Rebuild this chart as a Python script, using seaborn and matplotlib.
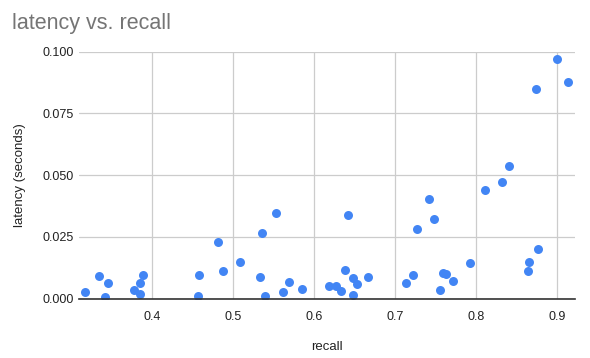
import matplotlib
matplotlib.use("Agg")
import matplotlib.pyplot as plt
import seaborn as sns
import pandas as pd
from matplotlib.ticker import FixedLocator, FormatStrFormatter

# recall / latency pairs
recall = [0.318, 0.335, 0.346, 0.342, 0.378, 0.385, 0.389, 0.386, 0.458, 0.457,
          0.482, 0.488, 0.509, 0.536, 0.534, 0.554, 0.540, 0.562, 0.569, 0.585,
          0.619, 0.627, 0.634, 0.639, 0.642, 0.649, 0.654, 0.649, 0.667, 0.714,
          0.722, 0.728, 0.742, 0.749, 0.756, 0.760, 0.763, 0.772, 0.793, 0.812,
          0.832, 0.841, 0.864, 0.866, 0.877, 0.875, 0.900, 0.914]
latency = [0.0027, 0.0091, 0.0062, 0.0008, 0.0034, 0.0065, 0.0097, 0.0018, 0.0095, 0.0010,
           0.0228, 0.0113, 0.0149, 0.0267, 0.0089, 0.0347, 0.0011, 0.0026, 0.0066, 0.0039,
           0.0051, 0.0051, 0.0031, 0.0117, 0.0340, 0.0083, 0.0061, 0.0015, 0.0089, 0.0065,
           0.0095, 0.0281, 0.0405, 0.0324, 0.0036, 0.0103, 0.0100, 0.0070, 0.0143, 0.0439,
           0.0471, 0.0536, 0.0112, 0.0147, 0.0203, 0.0848, 0.0969, 0.0879]

x_ticks = [0.4, 0.5, 0.6, 0.7, 0.8, 0.9]
y_ticks = [0.000, 0.025, 0.050, 0.075, 0.100]

df = pd.DataFrame({"recall": recall, "latency": latency})

sns.set_style("white")
plt.rcParams["font.family"] = ["Liberation Sans", "DejaVu Sans"]

fig = plt.figure(figsize=(5.9, 3.58), dpi=100)
ax = fig.add_axes([0.1344, 0.1656, 0.8402, 0.69])

sns.scatterplot(data=df, x="recall", y="latency", ax=ax, color="#4285F4",
                s=42, linewidth=0, zorder=3)

ax.set_xlim(0.3106, 0.9226)
ax.set_ylim(0, 0.1)
ax.xaxis.set_major_locator(FixedLocator(x_ticks))
ax.yaxis.set_major_locator(FixedLocator(y_ticks))
ax.yaxis.set_major_formatter(FormatStrFormatter("%.3f"))
ax.grid(True, color="#cccccc", linewidth=0.9)
ax.set_axisbelow(True)
for side in ["top", "right", "left"]:
    ax.spines[side].set_visible(False)
ax.spines["bottom"].set_color("#333333")
ax.spines["bottom"].set_linewidth(1.2)
ax.spines["bottom"].set_zorder(4)
ax.tick_params(axis="both", length=0, labelsize=9, labelcolor="#222222")
ax.tick_params(axis="x", pad=9)
ax.tick_params(axis="y", pad=4)

ax.set_xlabel("recall", fontsize=9.5, color="#222222", labelpad=13)
ax.set_ylabel("latency (seconds)", fontsize=9.5, color="#222222", labelpad=12)

fig.text(0.021, 0.935, "latency vs. recall", fontsize=15.5, color="#757575",
         ha="left", va="center")

fig.savefig("out.png", dpi=100, facecolor="white")
